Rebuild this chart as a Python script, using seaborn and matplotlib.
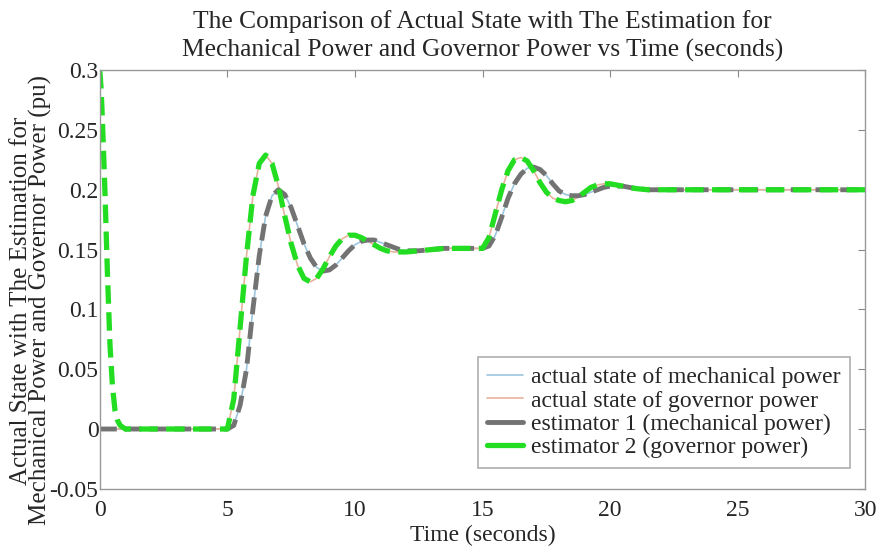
import numpy as np
import pandas as pd
import matplotlib
matplotlib.use("Agg")
import matplotlib.pyplot as plt
import seaborn as sns

# time axis shared by the actual states (seconds)
time = [0, 5.0, 5.25, 5.5, 5.75, 6.0, 6.25, 6.5, 6.75, 7.0, 7.25, 7.5, 7.75, 8.0, 8.25,
        8.5, 8.75, 9.0, 9.25, 9.5, 9.75, 10.0, 10.25, 10.5, 10.75, 11.0, 11.25, 11.5,
        11.75, 12.0, 12.5, 13.0, 13.5, 14.0, 14.5, 15.0, 15.25, 15.5, 15.75, 16.0, 16.25,
        16.5, 16.75, 17.0, 17.25, 17.5, 17.75, 18.0, 18.25, 18.5, 18.75, 19.0, 19.25,
        19.5, 19.75, 20.0, 20.25, 20.5, 20.75, 21.0, 21.5, 22.0, 25.0, 30.0]

mech = [0, 0, 0.003, 0.02, 0.05, 0.1, 0.145, 0.178, 0.195, 0.2, 0.196, 0.185, 0.17, 0.155,
        0.143, 0.135, 0.132, 0.133, 0.137, 0.143, 0.149, 0.154, 0.157, 0.158, 0.158, 0.156,
        0.154, 0.152, 0.15, 0.149, 0.149, 0.15, 0.151, 0.151, 0.151, 0.151, 0.153, 0.162,
        0.177, 0.193, 0.205, 0.213, 0.218, 0.219, 0.217, 0.212, 0.205, 0.199, 0.196, 0.195,
        0.195, 0.196, 0.198, 0.2, 0.202, 0.203, 0.203, 0.203, 0.202, 0.201, 0.2, 0.2, 0.2, 0.2]

gov = [0, 0, 0.025, 0.085, 0.145, 0.195, 0.222, 0.229, 0.222, 0.203, 0.178, 0.155, 0.137,
       0.126, 0.123, 0.126, 0.134, 0.144, 0.153, 0.159, 0.162, 0.162, 0.16, 0.157, 0.154,
       0.151, 0.149, 0.148, 0.148, 0.148, 0.149, 0.15, 0.151, 0.151, 0.151, 0.151, 0.16,
       0.18, 0.2, 0.216, 0.225, 0.227, 0.224, 0.216, 0.206, 0.198, 0.193, 0.191, 0.19,
       0.191, 0.194, 0.198, 0.202, 0.204, 0.205, 0.205, 0.204, 0.203, 0.202, 0.201, 0.2,
       0.2, 0.2, 0.2]

# estimator 2 starts from a wrong initial value and converges in about 1 s
est2_start_t = [0, 0.05, 0.1, 0.15, 0.2, 0.25, 0.3, 0.35, 0.4, 0.5, 0.6, 0.7, 0.8, 1.0]
est2_start_v = [0.3, 0.285, 0.26, 0.23, 0.2, 0.165, 0.13, 0.1, 0.07, 0.035, 0.015, 0.007, 0.003, 0.0]

est2_t = est2_start_t + time[1:]
est2_v = est2_start_v + gov[1:]

df = pd.DataFrame({"t": time, "mech": mech, "gov": gov})
df2 = pd.DataFrame({"t": est2_t, "v": est2_v})

sns.set_style("white")
plt.rcParams["font.family"] = ["Liberation Serif", "DejaVu Serif"]

fig = plt.figure(figsize=(8.83, 5.48), dpi=100)
ax = fig.add_axes([0.113, 0.108, 0.867, 0.764])

sns.lineplot(x="t", y="mech", data=df, ax=ax, color="#9cc6de", lw=1.2,
             label="actual state of mechanical power")
sns.lineplot(x="t", y="gov", data=df, ax=ax, color="#e6b49c", lw=1.2,
             label="actual state of governor power")
sns.lineplot(x="t", y="mech", data=df, ax=ax, color="#737373", lw=3.5,
             label="estimator 1 (mechanical power)")
sns.lineplot(x="t", y="v", data=df2, ax=ax, color="#22dd22", lw=3.8,
             label="estimator 2 (governor power)")
ax.lines[2].set_dashes((3.5, 1.6))
ax.lines[3].set_dashes((3.5, 1.6))

ax.set_xlim(0, 30)
ax.set_ylim(-0.05, 0.3)
ax.set_xticks([0, 5, 10, 15, 20, 25, 30])
ax.set_yticks([-0.05, 0, 0.05, 0.1, 0.15, 0.2, 0.25, 0.3])
ax.set_yticklabels(["-0.05", "0", "0.05", "0.1", "0.15", "0.2", "0.25", "0.3"])
ax.tick_params(direction="in", top=True, right=True, length=5, color="#888888",
               labelsize=17)
ax.tick_params(axis="x", pad=8)
ax.tick_params(axis="y", pad=1)
for s in ax.spines.values():
    s.set_color("#999999")
    s.set_linewidth(1.0)

ax.set_title("The Comparison of Actual State with The Estimation for\n"
             "Mechanical Power and Governor Power vs Time (seconds)",
             fontsize=18.4, pad=10, linespacing=1.3)
ax.set_xlabel("Time (seconds)", fontsize=17, labelpad=3)
ax.set_ylabel("Actual State with The Estimation for\n"
              "Mechanical Power and Governor Power (pu)", fontsize=18,
              linespacing=0.78)
ax.yaxis.set_label_coords(-0.063, 0.45)

leg = ax.legend(loc="lower right", fontsize=17, frameon=True, fancybox=False,
                handlelength=1.5, handletextpad=0.35, borderpad=0.4, labelspacing=0.08,
                borderaxespad=0, bbox_to_anchor=(0.98, 0.05))
leg.get_frame().set_edgecolor("#999999")
leg.get_frame().set_linewidth(1.2)
for h in leg.get_lines():
    h.set_linestyle("-")

fig.savefig("out.png", dpi=100)
